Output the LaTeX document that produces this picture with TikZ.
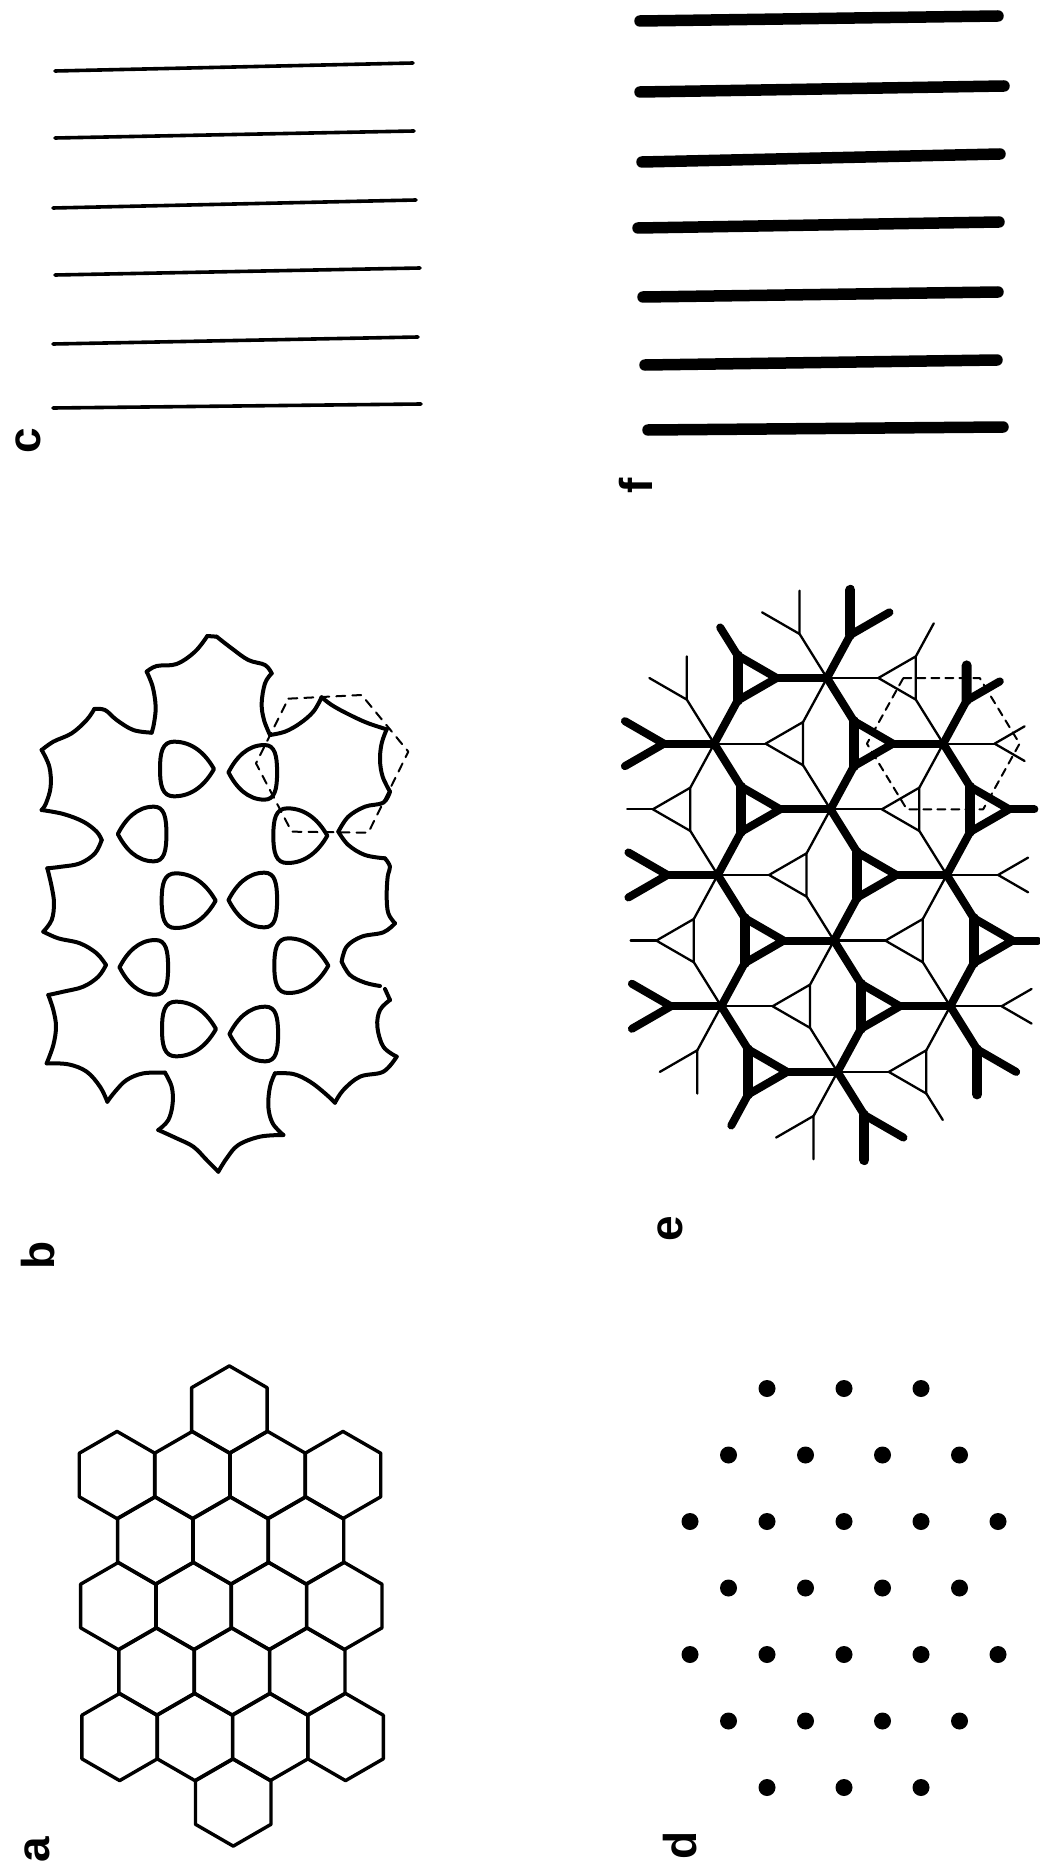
\documentclass[tikz,border=0pt]{standalone}
\usepackage{fontspec}
\setsansfont{Liberation Sans}
\usetikzlibrary{calc}
\newcommand{\blobhole}[3]{%
  \draw[bl] (#1+85*#3,#2) .. controls (#1+60*#3,#2-44) and (#1+22*#3,#2-82) .. (#1-35*#3,#2-82)
    .. controls (#1-70*#3,#2-82) and (#1-77*#3,#2-50) .. (#1-77*#3,#2)
    .. controls (#1-77*#3,#2+50) and (#1-70*#3,#2+82) .. (#1-35*#3,#2+82)
    .. controls (#1+22*#3,#2+82) and (#1+60*#3,#2+44) .. (#1+85*#3,#2) -- cycle;}
\begin{document}
\begin{tikzpicture}[x=1pt,y=-1pt, line join=round, line cap=round,
  hexl/.style={line width=3.4pt},
  cline/.style={line width=3.6pt},
  fline/.style={line width=11.5pt},
  bl/.style={line width=4pt},
  bdash/.style={line width=2pt, dash pattern=on 9pt off 7pt},
  thn/.style={line width=2.3pt},
  thk/.style={line width=8pt},
  thkb/.style={line width=10pt},
  edash/.style={line width=2pt, dash pattern=on 8pt off 6pt},
  lab/.style={font=\sffamily\bfseries\fontsize{46}{46}\selectfont, rotate=90, inner sep=0pt}
]
\fill[white] (0,0) rectangle (1040,1867);
\useasboundingbox (0,0) rectangle (1040,1867);

% ---------- panel a: honeycomb ----------
\foreach \r/\xs in {-3/{0}, -2/{-112.95,-37.65,37.65,112.95}, -1/{-75.3,0,75.3}, 0/{-112.95,-37.65,37.65,112.95}, 1/{-75.3,0,75.3}, 2/{-112.95,-37.65,37.65,112.95}, 3/{0}}{
  \foreach \dx in \xs {
    \draw[hexl] ({231.3+0.65*(\r)+\dx},{1606+65.5*(\r)}) +(90:43.6) -- +(30:43.6) -- +(-30:43.6) -- +(-90:43.6) -- +(-150:43.6) -- +(150:43.6) -- cycle;
  }
}

% ---------- panel d: dots ----------
\foreach \r/\xs in {-3/{-77,0,77}, -2/{-115.5,-38.5,38.5,115.5}, -1/{-154,-77,0,77,154}, 0/{-115.5,-38.5,38.5,115.5}, 1/{-154,-77,0,77,154}, 2/{-115.5,-38.5,38.5,115.5}, 3/{-77,0,77}}{
  \foreach \dx in \xs {
    \fill ({844+\dx},{1588+66.5*(\r)}) circle (8.5);
  }
}

% ---------- panel c: thin lines ----------
\draw[cline] (55,71) -- (413,63);
\draw[cline] (55,138) -- (414,131);
\draw[cline] (53,208) -- (416,200);
\draw[cline] (55,275) -- (420,268);
\draw[cline] (53,344) -- (418,337);
\draw[cline] (53,408) -- (421,404);

% ---------- panel f: thick lines ----------
\draw[fline] (640,21) -- (998,16);
\draw[fline] (640,92) -- (1004,86);
\draw[fline] (642,162) -- (1000,154);
\draw[fline] (638,228) -- (999,222);
\draw[fline] (643,297) -- (998,292);
\draw[fline] (645,365) -- (997,360);
\draw[fline] (648,430) -- (1003,427);

% ---------- panel b: mesh ----------
\begin{scope}[shift={(0,610)}, scale=1/3]
\draw[bl] plot[smooth, tension=0.6] coordinates {(622,78) (585,125) (530,162) (470,168) (440,185)};
\draw[bl] plot[smooth, tension=0.6] coordinates {(440,185) (458,230) (467,290) (462,340) (455,368)};
\draw[bl] plot[smooth, tension=0.6] coordinates {(455,368) (400,360) (350,330) (315,300) (283,297)};
\draw[bl] plot[smooth, tension=0.6] coordinates {(283,297) (260,330) (215,370) (160,395) (125,420)};
\draw[bl] plot[smooth, tension=0.6] coordinates {(125,420) (148,470) (152,530) (138,580) (125,600)};
\draw[bl] plot[smooth, tension=0.6] coordinates {(125,600) (190,612) (250,635) (290,665) (305,690)};
\draw[bl] plot[smooth, tension=0.6] coordinates {(305,690) (285,730) (240,760) (185,770) (142,775)};
\draw[bl] plot[smooth, tension=0.6] coordinates {(142,775) (155,830) (162,880) (155,930) (130,965)};
\draw[bl] plot[smooth, tension=0.6] coordinates {(130,965) (175,985) (240,1000) (290,1030) (318,1065)};
\draw[bl] plot[smooth, tension=0.6] coordinates {(318,1065) (295,1100) (250,1130) (190,1145) (145,1155)};
\draw[bl] plot[smooth, tension=0.6] coordinates {(145,1155) (160,1200) (168,1250) (160,1305) (140,1360)};
\draw[bl] plot[smooth, tension=0.6] coordinates {(140,1360) (205,1363) (260,1385) (300,1430) (322,1475)};
\draw[bl] plot[smooth, tension=0.6] coordinates {(322,1475) (345,1445) (380,1410) (430,1390) (495,1388)};
\draw[bl] plot[smooth, tension=0.6] coordinates {(495,1388) (515,1430) (518,1480) (505,1530) (475,1560)};
\draw[bl] plot[smooth, tension=0.6] coordinates {(475,1560) (530,1585) (580,1610) (620,1650) (655,1685)};
\draw[bl] plot[smooth, tension=0.6] coordinates {(655,1685) (680,1645) (715,1605) (780,1580) (850,1575)};
\draw[bl] plot[smooth, tension=0.6] coordinates {(850,1575) (818,1540) (805,1490) (810,1430) (825,1390)};
\draw[bl] plot[smooth, tension=0.6] coordinates {(825,1390) (880,1392) (930,1415) (975,1450) (1005,1478)};
\draw[bl] plot[smooth, tension=0.6] coordinates {(1005,1478) (1030,1440) (1080,1400) (1150,1385) (1190,1340)};
\draw[bl] plot[smooth, tension=0.6] coordinates {(1190,1340) (1150,1310) (1132,1250) (1140,1200) (1170,1170)};
\draw[bl] (1170,1170) -- (1155,1137);
\draw[bl] plot[smooth, tension=0.6] coordinates {(1140,1128) (1095,1118) (1050,1095) (1025,1055)};
\draw[bl] plot[smooth, tension=0.6] coordinates {(1025,1055) (1040,1010) (1085,980) (1150,967) (1185,940)};
\draw[bl] plot[smooth, tension=0.6] coordinates {(1185,940) (1165,910) (1160,860) (1163,800) (1170,770) (1155,745)};
\draw[bl] plot[smooth, tension=0.6] coordinates {(1155,745) (1095,735) (1045,705) (1015,665)};
\draw[bl] plot[smooth, tension=0.6] coordinates {(1015,665) (1045,620) (1095,590) (1150,578) (1170,545)};
\draw[bl] plot[smooth, tension=0.6] coordinates {(1170,545) (1148,500) (1140,450) (1145,400) (1160,358)};
\draw[bl] plot[smooth, tension=0.6] coordinates {(1160,358) (1100,338) (1040,310) (995,285) (965,262)};
\draw[bl] plot[smooth, tension=0.6] coordinates {(965,262) (940,305) (900,340) (855,365) (810,375)};
\draw[bl] plot[smooth, tension=0.6] coordinates {(810,375) (792,330) (785,280) (795,220) (815,190)};
\draw[bl] plot[smooth, tension=0.6] coordinates {(815,190) (795,165) (745,150) (695,115) (650,80)};
\draw[bl] (650,80) -- (622,78);
% holes
\blobhole{557}{477}{1}
\blobhole{762}{487}{-0.9}
\blobhole{430}{672}{-0.9}
\blobhole{897}{677}{1}
\blobhole{562}{872}{1}
\blobhole{762}{870}{-0.9}
\blobhole{435}{1072}{-0.9}
\blobhole{900}{1067}{1}
\blobhole{563}{1257}{1}
\blobhole{765}{1272}{-0.9}
% dashed hexagon
\draw[bdash] (865,266) -- (1085,255) -- (1225,425) -- (1105,668) -- (875,665) -- (768,460) -- cycle;
\end{scope}

% ---------- panel e: network ----------
\foreach \C in {0,...,4}{
  \foreach \M in {0,...,8}{
    \pgfmathsetmacro\px{827+114.5*(\C-2)+1.75*(\M-1)}
    \pgfmathsetmacro\py{678+65.65*(\M-1)}
    \pgfmathsetmacro\kx{\px+38.1667}
    \pgfmathsetmacro\nx{\px-38.1667}
    \coordinate (H\C\M) at (\px,\py);
    \coordinate (KC\C\M) at (\kx,\py);
    \coordinate (KA\C\M) at (\kx+26,\py);
    \coordinate (KU\C\M) at (\kx-13,\py-22.5);
    \coordinate (KD\C\M) at (\kx-13,\py+22.5);
    \coordinate (NC\C\M) at (\nx,\py);
    \coordinate (NA\C\M) at (\nx-25,\py);
    \coordinate (NU\C\M) at (\nx+12.5,\py-21.65);
    \coordinate (ND\C\M) at (\nx+12.5,\py+21.65);
  }
}
% thin triangles (full)
\foreach \s in {13,15,22,24,26,31,33,35,37}
  \draw[thn] (NA\s) -- (NU\s) -- (ND\s) -- cycle;
% thin partial triangles
\draw[thn] (NU11) -- (ND11) -- (NA11);
\draw[thn] (NU20) -- (ND20) -- (NA20);
\draw[thn] (ND17) -- (NU17) -- (NA17);
\draw[thn] (ND28) -- (NU28) -- (NA28);
% thin forks
\foreach \s in {42,44,46}
  \draw[thn] ($(NA\s)!0.8!(NU\s)$) -- (NA\s) -- ($(NA\s)!0.8!(ND\s)$);
% thin spokes
\foreach \a/\b in {ND11/H12, NU13/H12, ND13/H14, NU15/H14, ND15/H16, NU17/H16, ND20/H21,
  NA22/H12, NU22/H21, ND22/H23, NA24/H14, NU24/H23, ND24/H25, NA26/H16, NU26/H25, ND26/H27,
  NU28/H27, NA31/H21, ND31/H32, NA33/H23, NU33/H32, ND33/H34, NA35/H25, NU35/H34, ND35/H36,
  NA37/H27, NU37/H36, NA42/H32, NA44/H34, NA46/H36}
  \draw[thn] (\a) -- (\b);
\draw[thn] (NA13) -- ($(NA13)!0.5!(H03)$);
\draw[thn] (NA15) -- ($(NA15)!0.5!(H05)$);
\draw[thn] (NU31) -- ($(NU31)!0.75!(H30)$);
\draw[thn] (ND37) -- ($(ND37)!0.6!(H38)$);
% thick triangles (full)
\foreach \s in {11,13,15,17,22,24,26,33,35}{
  \draw[thk] (KA\s) -- (KU\s) -- (KD\s) -- cycle;
  \draw[thkb] (KU\s) -- (KD\s);
}
% thick partial triangles
\draw[thkb] (KU20) -- (KD20); \draw[thk] (KD20) -- (KA20);
\draw[thkb] ($(KU31)!0.22!(KD31)$) -- (KD31); \draw[thk] (KD31) -- ($(KD31)!0.85!(KA31)$);
\draw[thkb] (KD28) -- (KU28); \draw[thk] (KU28) -- (KA28);
\draw[thkb] (KD37) -- (KU37); \draw[thk] (KU37) -- (KA37);
% thick forks
\foreach \s in {02,04,06}
  \draw[thk] (KU\s) -- (KA\s) -- (KD\s);
% thick spokes
\foreach \a/\b in {KA02/H12, KA04/H14, KA06/H16, KA11/H21, KD11/H12, KA13/H23, KU13/H12, KD13/H14,
  KA15/H25, KU15/H14, KD15/H16, KA17/H27, KU17/H16, KD20/H21, KA22/H32, KU22/H21, KD22/H23,
  KA24/H34, KU24/H23, KD24/H25, KA26/H36, KU26/H25, KD26/H27, KU28/H27, KD31/H32,
  KU33/H32, KD33/H34, KU35/H34, KD35/H36, KU37/H36}
  \draw[thk] (\a) -- (\b);
\draw[thk] (KU11) -- ($(KU11)!0.65!(H10)$);
\draw[thk] (KD17) -- ($(KD17)!0.72!(H18)$);
\draw[thk] (KA33) -- ($(KA33)!0.5!(H43)$);
\draw[thk] (KA35) -- ($(KA35)!0.5!(H45)$);
% dashed hexagon
\draw[edash] (NC31) -- (KC31) -- (NC42) -- (KC33) -- (NC33) -- (KC22) -- cycle;

% ---------- labels ----------
\node[lab] (la) at (37,1850) {a};
\node[lab] (lb) at (38,1255) {b};
\node[lab] (lc) at (28,441) {c};
\node[lab] (ld) at (680,1845) {d};
\node[lab] (le) at (670,1229) {e};
\node[lab] (lf) at (636,486) {f};
\end{tikzpicture}
\end{document}
